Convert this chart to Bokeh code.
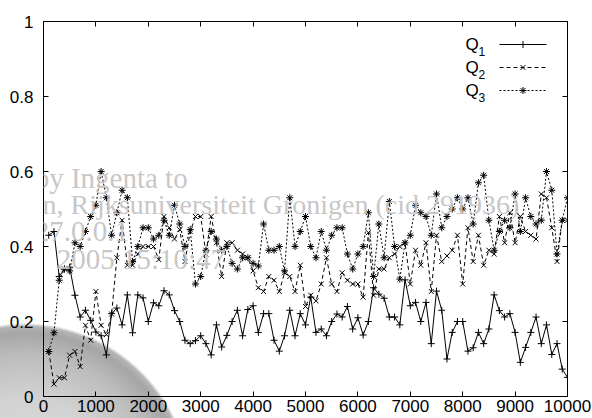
from bokeh.plotting import figure
from bokeh.layouts import column
from bokeh.models import Range1d, FixedTicker, CustomJSTickFormatter, LinearAxis, InlineStyleSheet, ColumnDataSource
from bokeh.core.properties import value
from bokeh.embed import file_html
from bokeh.resources import INLINE

# ---------------- data ----------------
steps = list(range(100, 10001, 100))

q1 = [0.43, 0.44, 0.32, 0.34, 0.345, 0.27, 0.212, 0.23, 0.203, 0.172,
      0.162, 0.111, 0.221, 0.236, 0.191, 0.271, 0.17, 0.271, 0.263, 0.2,
      0.25, 0.242, 0.282, 0.271, 0.229, 0.2, 0.15, 0.141, 0.149, 0.162,
      0.141, 0.111, 0.191, 0.132, 0.163, 0.2, 0.23, 0.162, 0.232, 0.242,
      0.171, 0.221, 0.221, 0.15, 0.121, 0.162, 0.23, 0.162, 0.221, 0.191,
      0.265, 0.171, 0.18, 0.162, 0.2, 0.22, 0.212, 0.24, 0.18, 0.21,
      0.164, 0.2, 0.29, 0.273, 0.262, 0.212, 0.212, 0.191, 0.311, 0.242,
      0.251, 0.2, 0.251, 0.141, 0.281, 0.23, 0.1, 0.171, 0.2, 0.2,
      0.121, 0.13, 0.171, 0.141, 0.18, 0.271, 0.229, 0.212, 0.221, 0.171,
      0.091, 0.131, 0.171, 0.212, 0.141, 0.191, 0.112, 0.141, 0.073, 0.051]

q2 = [0.12, 0.033, 0.05, 0.05, 0.11, 0.12, 0.08, 0.19, 0.15, 0.28,
      0.19, 0.165, 0.22, 0.37, 0.47, 0.35, 0.35, 0.38, 0.40, 0.40,
      0.40, 0.365, 0.48, 0.45, 0.42, 0.445, 0.36, 0.44, 0.48, 0.48,
      0.38, 0.48, 0.41, 0.32, 0.41, 0.41, 0.39, 0.38, 0.37, 0.335,
      0.29, 0.28, 0.32, 0.31, 0.28, 0.33, 0.32, 0.28, 0.35, 0.24,
      0.27, 0.255, 0.30, 0.37, 0.30, 0.28, 0.33, 0.31, 0.30, 0.30,
      0.265, 0.437, 0.27, 0.34, 0.34, 0.37, 0.38, 0.40, 0.41, 0.30,
      0.39, 0.35, 0.41, 0.28, 0.43, 0.36, 0.375, 0.39, 0.43, 0.30,
      0.45, 0.36, 0.43, 0.35, 0.39, 0.38, 0.48, 0.41, 0.49, 0.41,
      0.48, 0.44, 0.43, 0.42, 0.54, 0.53, 0.45, 0.36, 0.47, 0.47]

q3 = [0.12, 0.17, 0.31, 0.34, 0.335, 0.41, 0.40, 0.44, 0.48, 0.51,
      0.60, 0.53, 0.43, 0.49, 0.55, 0.53, 0.36, 0.40, 0.45, 0.45,
      0.42, 0.43, 0.47, 0.43, 0.51, 0.46, 0.40, 0.445, 0.30, 0.32,
      0.39, 0.44, 0.42, 0.39, 0.40, 0.355, 0.34, 0.37, 0.37, 0.355,
      0.348, 0.46, 0.39, 0.39, 0.40, 0.335, 0.53, 0.40, 0.44, 0.48,
      0.40, 0.37, 0.44, 0.39, 0.43, 0.45, 0.45, 0.38, 0.34, 0.38,
      0.40, 0.49, 0.32, 0.46, 0.37, 0.52, 0.40, 0.313, 0.41, 0.43,
      0.51, 0.49, 0.48, 0.43, 0.54, 0.45, 0.48, 0.50, 0.53, 0.50,
      0.53, 0.46, 0.57, 0.59, 0.47, 0.39, 0.44, 0.47, 0.45, 0.54,
      0.44, 0.53, 0.48, 0.46, 0.47, 0.60, 0.55, 0.38, 0.47, 0.53]

series_labels = ["1", "2", "3"]
x_ticks = list(range(0, 10001, 1000))
y_ticks = [0, 0.2, 0.4, 0.6, 0.8, 1]
watermark_lines = ["by Ingenta to",
                   "n, Rijksuniversiteit Gronigen (cid 291936)",
                   "27.0.0.1",
                   "2005 15:10:47"]

# ---------------- layout helpers (page pixel -> data units) ----------------
FL, FR, FT, FB = 43, 567, 21, 396   # frame edges in page pixels

def px_x(px):
    return (px - FL) / (FR - FL) * 10000

def px_y(py):
    return (FB - py) / (FB - FT)

SANS = "Liberation Sans"
SERIF = "Liberation Serif"

W, H = 592, 418
p = figure(width=W, height=H, x_range=Range1d(0, 10000), y_range=Range1d(0, 1),
           output_backend="svg", toolbar_location=None)
p.min_border_left = FL
p.min_border_right = W - FR
p.min_border_top = FT
p.min_border_bottom = H - FB
p.background_fill_color = None
p.border_fill_color = None
p.outline_line_color = "black"
p.outline_line_width = 1
p.grid.visible = False

p.stylesheets = [InlineStyleSheet(css=(
    ":host { background: radial-gradient(circle 166px at 25px 489px, "
    "#dedede 0%, #d2d2d2 55%, #bdbdbd 80%, #a6a6a6 94%, #b4b4b4 98%, "
    "rgba(255,255,255,0) 100%) no-repeat; }"))]

def style_axis(ax, show_labels, size="17px", standoff=2):
    ax.axis_line_color = None
    ax.major_tick_in = 5
    ax.major_tick_out = 0
    ax.minor_tick_line_color = None
    ax.major_tick_line_color = "black"
    ax.major_label_text_font = SANS
    ax.major_label_text_font_size = size
    ax.major_label_text_color = "black"
    ax.major_label_standoff = standoff
    if not show_labels:
        ax.formatter = CustomJSTickFormatter(code="return '';")
        ax.major_label_text_font_size = "1px"

xb = p.xaxis[0]
xb.ticker = FixedTicker(ticks=x_ticks)
xb.formatter = CustomJSTickFormatter(code="return tick.toFixed(0);")
style_axis(xb, True, "17px", 3)

yl = p.yaxis[0]
yl.ticker = FixedTicker(ticks=y_ticks)
yl.formatter = CustomJSTickFormatter(code="return (Math.round(tick*10)/10).toString();")
style_axis(yl, True, "17px", 10)

xt = LinearAxis(ticker=FixedTicker(ticks=x_ticks))
style_axis(xt, False)
p.add_layout(xt, "above")
yr = LinearAxis(ticker=FixedTicker(ticks=y_ticks))
style_axis(yr, False)
p.add_layout(yr, "right")

# ---------------- series ----------------
styles = [
    dict(dash="solid", marker="cross"),
    dict(dash="4 3", marker="x"),
    dict(dash="2 2", marker="asterisk"),
]
series = [q1, q2, q3]
for vals, st in zip(series, styles):
    p.line(steps, vals, line_color="black", line_width=1, line_dash=st["dash"])
    p.scatter(steps, vals, marker=st["marker"], size=7, line_color="black",
              line_width=1, fill_color=None)

# ---------------- legend (gnuplot style: label left, sample right) ----------------
rows_py = [44, 67, 90]
for lab, st, ry in zip(series_labels, styles, rows_py):
    yv = px_y(ry)
    p.line([px_x(499), px_x(546)], [yv, yv], line_color="black", line_width=1,
           line_dash=st["dash"])
    p.scatter([px_x(522.5)], [yv], marker=st["marker"], size=7, line_color="black",
              line_width=1, fill_color=None)
    p.text(x=[px_x(465)], y=[yv], text=["Q"], text_font=value(SANS),
           text_font_size="17px", text_baseline="middle", text_align="left",
           text_color="black")
    p.text(x=[px_x(478)], y=[px_y(ry + 7)], text=[lab], text_font=value(SANS),
           text_font_size="12px", text_baseline="middle", text_align="left",
           text_color="black")

# ---------------- watermark overlay (full-canvas, page-pixel coordinates) ----------------
wm = figure(width=W, height=H, x_range=Range1d(0, W), y_range=Range1d(H, 0),
            output_backend="svg", toolbar_location=None,
            min_border=0, min_border_left=0, min_border_right=0,
            min_border_top=0, min_border_bottom=0)
wm.axis.visible = False
wm.grid.visible = False
wm.outline_line_color = None
wm.background_fill_color = None
wm.border_fill_color = None
wm.styles = {"position": "absolute", "left": "0px", "top": "0px", "pointer-events": "none"}
wm_src = ColumnDataSource(dict(
    x=[-10, -1, -10, 15],
    y=[177, 204, 231, 258],
    text=watermark_lines,
    size=["29px", "28px", "29px", "29px"],
))
wm.text(x="x", y="y", text="text", source=wm_src, text_font=value(SERIF),
        text_font_size="size", text_color="#c4c4c4", text_alpha=0.95,
        text_baseline="alphabetic", text_align="left")

root = column(p, wm)
open("out.html", "w").write(file_html(root, INLINE))
